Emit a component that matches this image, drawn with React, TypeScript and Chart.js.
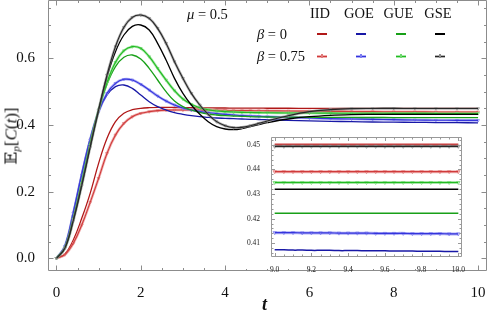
import React, { useEffect, useRef } from 'react';
import { Chart, registerables } from 'chart.js';
Chart.register(...registerables);

const FONT = "'Liberation Serif', 'Times New Roman', serif";

// ---------- main plot data ----------
const T = [0, 0.2, 0.4, 0.6, 0.8, 1.0, 1.2, 1.4, 1.6, 1.8, 2.0, 2.2, 2.4, 2.6, 2.8, 3.0, 3.2, 3.4, 3.6, 3.8, 4.0, 4.2, 4.4, 4.6, 4.8, 5.0, 5.5, 6.0, 6.5, 7.0, 7.5, 8.0, 8.5, 9.0, 9.5, 10.0];
const IID_B0 = [0, 0.013, 0.055, 0.12, 0.195, 0.285, 0.36, 0.41, 0.435, 0.446, 0.45, 0.452, 0.453, 0.453, 0.4525, 0.452, 0.4518, 0.4515, 0.4512, 0.451, 0.451, 0.4508, 0.4506, 0.4505, 0.4504, 0.4503, 0.4502, 0.4501, 0.4501, 0.45, 0.45, 0.45, 0.45, 0.45, 0.45, 0.45];
const IID_B75 = [0, 0.011, 0.045, 0.1, 0.168, 0.24, 0.315, 0.37, 0.405, 0.425, 0.435, 0.44, 0.443, 0.4445, 0.445, 0.445, 0.4448, 0.4445, 0.4442, 0.444, 0.4438, 0.4435, 0.4432, 0.443, 0.4427, 0.4425, 0.442, 0.4415, 0.441, 0.4405, 0.44, 0.4397, 0.4394, 0.4391, 0.439, 0.439];
const GOE_B0 = [0, 0.038, 0.14, 0.255, 0.36, 0.44, 0.49, 0.515, 0.52, 0.51, 0.49, 0.47, 0.455, 0.445, 0.437, 0.432, 0.428, 0.425, 0.423, 0.421, 0.42, 0.419, 0.418, 0.417, 0.4165, 0.416, 0.414, 0.4125, 0.411, 0.41, 0.409, 0.4085, 0.408, 0.4073, 0.407, 0.4066];
const GOE_B75 = [0, 0.036, 0.135, 0.25, 0.355, 0.44, 0.495, 0.525, 0.537, 0.535, 0.522, 0.505, 0.487, 0.472, 0.46, 0.451, 0.445, 0.44, 0.437, 0.434, 0.432, 0.43, 0.428, 0.427, 0.426, 0.425, 0.423, 0.421, 0.419, 0.418, 0.417, 0.416, 0.415, 0.4143, 0.414, 0.4138];
const GUE_B0 = [0, 0.032, 0.12, 0.23, 0.345, 0.445, 0.522, 0.575, 0.603, 0.61, 0.598, 0.57, 0.535, 0.5, 0.472, 0.455, 0.445, 0.438, 0.433, 0.43, 0.428, 0.427, 0.426, 0.425, 0.4245, 0.424, 0.4235, 0.423, 0.4228, 0.4226, 0.4225, 0.4224, 0.4223, 0.4222, 0.4222, 0.4222];
const GUE_B75 = [0, 0.031, 0.117, 0.225, 0.34, 0.445, 0.528, 0.588, 0.623, 0.635, 0.63, 0.605, 0.57, 0.535, 0.503, 0.478, 0.462, 0.452, 0.446, 0.442, 0.44, 0.439, 0.438, 0.4375, 0.437, 0.4368, 0.4362, 0.4358, 0.4355, 0.4353, 0.4351, 0.435, 0.4348, 0.4347, 0.4347, 0.4347];
const GSE_B0 = [0, 0.03, 0.115, 0.22, 0.335, 0.445, 0.545, 0.62, 0.67, 0.696, 0.7, 0.685, 0.645, 0.595, 0.54, 0.495, 0.46, 0.432, 0.41, 0.395, 0.388, 0.386, 0.389, 0.395, 0.401, 0.407, 0.418, 0.425, 0.429, 0.431, 0.4317, 0.432, 0.432, 0.432, 0.432, 0.432];
const GSE_B75 = [0, 0.03, 0.113, 0.218, 0.333, 0.445, 0.55, 0.635, 0.693, 0.723, 0.73, 0.72, 0.69, 0.645, 0.59, 0.54, 0.495, 0.46, 0.432, 0.41, 0.398, 0.392, 0.393, 0.398, 0.405, 0.412, 0.428, 0.44, 0.446, 0.449, 0.4497, 0.4498, 0.4496, 0.4494, 0.4494, 0.4494];

const X_TICKS = [0, 2, 4, 6, 8, 10];
const Y_TICKS = [0.0, 0.2, 0.4, 0.6];

// ---------- inset data ----------
const INSET_T = [9.0, 9.05, 9.1, 9.15, 9.2, 9.25, 9.3, 9.35, 9.4, 9.45, 9.5, 9.55, 9.6, 9.65, 9.7, 9.75, 9.8, 9.85, 9.9, 9.95, 10.0];
const IN_IID_B0 = [0.4501, 0.4501, 0.4501, 0.4501, 0.4501, 0.4501, 0.4501, 0.4501, 0.4501, 0.4501, 0.4501, 0.4501, 0.4501, 0.4501, 0.4501, 0.4501, 0.4501, 0.4501, 0.4501, 0.4501, 0.4501];
const IN_IID_B75 = [0.4391, 0.4391, 0.4391, 0.4391, 0.4391, 0.4391, 0.4391, 0.4391, 0.4391, 0.4391, 0.4391, 0.4391, 0.4391, 0.4391, 0.4391, 0.4391, 0.4391, 0.4391, 0.4391, 0.4391, 0.4391];
const IN_GOE_B0 = [0.4073, 0.4073, 0.4072, 0.4072, 0.4071, 0.4071, 0.4071, 0.407, 0.407, 0.407, 0.4069, 0.4069, 0.4069, 0.4068, 0.4068, 0.4068, 0.4067, 0.4067, 0.4067, 0.4066, 0.4066];
const IN_GOE_B75 = [0.4143, 0.4143, 0.4143, 0.4142, 0.4142, 0.4142, 0.4142, 0.4141, 0.4141, 0.4141, 0.4141, 0.414, 0.414, 0.414, 0.414, 0.4139, 0.4139, 0.4139, 0.4139, 0.4138, 0.4138];
const IN_GUE_B0 = [0.4222, 0.4222, 0.4222, 0.4222, 0.4222, 0.4222, 0.4222, 0.4222, 0.4222, 0.4222, 0.4222, 0.4222, 0.4222, 0.4222, 0.4222, 0.4222, 0.4222, 0.4222, 0.4222, 0.4222, 0.4222];
const IN_GUE_B75 = [0.4347, 0.4347, 0.4347, 0.4347, 0.4347, 0.4347, 0.4347, 0.4347, 0.4347, 0.4347, 0.4347, 0.4347, 0.4347, 0.4347, 0.4347, 0.4347, 0.4347, 0.4347, 0.4347, 0.4347, 0.4347];
const IN_GSE_B0 = [0.432, 0.432, 0.432, 0.432, 0.432, 0.432, 0.432, 0.432, 0.432, 0.432, 0.432, 0.432, 0.432, 0.432, 0.432, 0.432, 0.432, 0.432, 0.432, 0.432, 0.432];
const IN_GSE_B75 = [0.4494, 0.4494, 0.4494, 0.4494, 0.4494, 0.4494, 0.4494, 0.4494, 0.4494, 0.4494, 0.4494, 0.4494, 0.4494, 0.4494, 0.4494, 0.4494, 0.4494, 0.4494, 0.4494, 0.4494, 0.4494];

const IN_X_TICKS = [9.0, 9.2, 9.4, 9.6, 9.8, 10.0];
const IN_Y_TICKS = [0.41, 0.42, 0.43, 0.44, 0.45];

// ---------- styles ----------
const C = {
  iid: { dark: '#b01818', mid: '#d03a3a', halo: 'rgba(228,120,120,0.6)', mark: '#e07a7a' },
  goe: { dark: '#1818a6', mid: '#3434dc', halo: 'rgba(120,120,240,0.6)', mark: '#7d7df0' },
  gue: { dark: '#18a018', mid: '#22bb22', halo: 'rgba(110,215,110,0.6)', mark: '#70d870' },
  gse: { dark: '#000000', mid: '#262626', halo: 'rgba(130,130,130,0.6)', mark: '#8a8a8a' },
};

const framePlugin = {
  id: 'frameTicks',
  beforeDraw(chart: any, _args: any, o: any) {
    if (!o.bg) return;
    const { ctx, chartArea: a } = chart;
    ctx.save();
    ctx.fillStyle = o.bg;
    ctx.fillRect(a.left - 26, a.top - 4, a.right - a.left + 32, a.bottom - a.top + 16);
    ctx.restore();
  },
  afterDraw(chart: any, _args: any, o: any) {
    const { ctx, chartArea: a, scales } = chart;
    const xs = scales.x, ys = scales.y;
    ctx.save();
    ctx.strokeStyle = o.color;
    ctx.lineWidth = 1;
    ctx.beginPath();
    const L = Math.round(a.left) + 0.5, R = Math.round(a.right) - 0.5;
    const Tp = Math.round(a.top) + 0.5, B = Math.round(a.bottom) - 0.5;
    ctx.rect(L, Tp, R - L, B - Tp);
    const xt = (v: number, len: number) => {
      const p = Math.round(xs.getPixelForValue(v)) + 0.5;
      ctx.moveTo(p, B); ctx.lineTo(p, B - len);
      ctx.moveTo(p, Tp); ctx.lineTo(p, Tp + len);
    };
    const yt = (v: number, len: number) => {
      const p = Math.round(ys.getPixelForValue(v)) + 0.5;
      ctx.moveTo(L, p); ctx.lineTo(L + len, p);
      ctx.moveTo(R, p); ctx.lineTo(R - len, p);
    };
    const sub = (ticks: number[], n: number, f: (v: number, l: number) => void, min: number, max: number) => {
      const step = ticks[1] - ticks[0];
      for (let i = -1; i < ticks.length; i++) {
        const base = ticks[0] + i * step;
        for (let k = 0; k < n; k++) {
          const v = base + (k === 0 ? 0 : (k * step) / n);
          if (v < min || v > max) continue;
          f(v, k === 0 ? o.major : o.minor);
        }
      }
    };
    sub(o.xTicks, o.xSub, xt, xs.min, xs.max);
    sub(o.yTicks, o.ySub, yt, ys.min, ys.max);
    ctx.stroke();
    ctx.restore();
  },
};

function pts(xs: number[], ys: number[]) {
  return xs.map((x, i) => ({ x, y: ys[i] }));
}

function solid(xs: number[], ys: number[], color: string, w = 1.3) {
  return { data: pts(xs, ys), borderColor: color, borderWidth: w, pointRadius: 0, tension: 0.4, fill: false };
}

function marked(xs: number[], ys: number[], c: any, r: number, hw: number) {
  return [
    { data: pts(xs, ys), borderColor: c.mid, borderWidth: 1.1, pointRadius: 0, tension: 0.4, fill: false },
    {
      data: pts(xs, ys), borderColor: c.halo, borderWidth: hw, tension: 0.4, fill: false,
      pointStyle: 'triangle', rotation: 180, pointRadius: r, pointBorderWidth: 0.8,
      pointBackgroundColor: 'rgba(255,255,255,0.6)', pointBorderColor: c.mark,
    },
  ];
}

function fixTicks(vals: number[]) {
  return (s: any) => { s.ticks = vals.map((v) => ({ value: v })); };
}
function fitSize(key: 'width' | 'height', n: number) {
  return (s: any) => {
    s[key] = n;
    s.paddingTop = 0; s.paddingBottom = 0; s.paddingLeft = 0; s.paddingRight = 0;
  };
}

export default function App() {
  const mainRef = useRef<HTMLCanvasElement>(null);
  const insetRef = useRef<HTMLCanvasElement>(null);

  useEffect(() => {
    document.body.style.margin = '0';
    const main = new Chart(mainRef.current!, {
      type: 'line',
      data: {
        datasets: [
          ...marked(T, GSE_B75, C.gse, 1.6, 2.6),
          solid(T, GSE_B0, C.gse.dark),
          ...marked(T, GUE_B75, C.gue, 1.6, 2.6),
          solid(T, GUE_B0, C.gue.dark),
          ...marked(T, GOE_B75, C.goe, 1.6, 2.6),
          solid(T, GOE_B0, C.goe.dark),
          ...marked(T, IID_B75, C.iid, 1.6, 2.6),
          solid(T, IID_B0, C.iid.dark),
        ] as any,
      },
      options: {
        animation: false,
        responsive: false,
        devicePixelRatio: 1,
        layout: { autoPadding: false, padding: { top: 0, right: 1.5, left: 0, bottom: 0 } },
        plugins: {
          legend: { display: false },
          tooltip: { enabled: false },
          frameTicks: { color: '#8c8c8c', major: 5, minor: 2.5, xTicks: X_TICKS, yTicks: Y_TICKS, xSub: 4, ySub: 4 },
        } as any,
        scales: {
          x: {
            type: 'linear', min: -0.2, max: 10.2,
            afterBuildTicks: fixTicks(X_TICKS),
            afterFit: fitSize('height', 48),
            grid: { display: false }, border: { display: false },
            ticks: { padding: 5, color: '#111', font: { family: FONT, size: 15 }, maxRotation: 0, autoSkip: false, callback: (v: any) => String(v) },
          },
          y: {
            type: 'linear', min: -0.038, max: 0.775,
            afterBuildTicks: fixTicks(Y_TICKS),
            afterFit: fitSize('width', 48),
            grid: { display: false }, border: { display: false },
            ticks: { padding: 5, color: '#111', font: { family: FONT, size: 15 }, autoSkip: false, callback: (v: any) => Number(v).toFixed(1) },
          },
        },
      },
      plugins: [framePlugin],
    });

    const inset = new Chart(insetRef.current!, {
      type: 'line',
      data: {
        datasets: [
          ...marked(INSET_T, IN_GSE_B75, C.gse, 2, 3),
          solid(INSET_T, IN_IID_B0, C.iid.mid, 2.2),
          ...marked(INSET_T, IN_IID_B75, C.iid, 2, 3),
          ...marked(INSET_T, IN_GUE_B75, C.gue, 2, 3),
          solid(INSET_T, IN_GSE_B0, C.gse.dark, 1.5),
          solid(INSET_T, IN_GUE_B0, C.gue.dark, 1.5),
          ...marked(INSET_T, IN_GOE_B75, C.goe, 2, 3),
          solid(INSET_T, IN_GOE_B0, C.goe.dark, 1.5),
        ] as any,
      },
      options: {
        animation: false,
        responsive: false,
        devicePixelRatio: 1,
        layout: { autoPadding: false, padding: { top: 4.5, right: 8, left: 0, bottom: 0 } },
        plugins: {
          legend: { display: false },
          tooltip: { enabled: false },
          frameTicks: { bg: '#ffffff', color: '#999999', major: 3.5, minor: 2, xTicks: IN_X_TICKS, yTicks: IN_Y_TICKS, xSub: 4, ySub: 5 },
        } as any,
        scales: {
          x: {
            type: 'linear', min: 8.98, max: 10.02,
            afterBuildTicks: fixTicks(IN_X_TICKS),
            afterFit: fitSize('height', 20),
            grid: { display: false }, border: { display: false },
            ticks: { padding: 1, color: '#222', font: { family: FONT, size: 7.5 }, maxRotation: 0, autoSkip: false, callback: (v: any) => Number(v).toFixed(1) },
          },
          y: {
            type: 'linear', min: 0.4044, max: 0.4534,
            afterBuildTicks: fixTicks(IN_Y_TICKS),
            afterFit: fitSize('width', 26),
            grid: { display: false }, border: { display: false },
            ticks: { padding: 3, color: '#222', font: { family: FONT, size: 7.5 }, autoSkip: false, callback: (v: any) => Number(v).toFixed(2) },
          },
        },
      },
      plugins: [framePlugin],
    });

    return () => { main.destroy(); inset.destroy(); };
  }, []);

  const txt = (s: React.CSSProperties): React.CSSProperties => ({
    position: 'absolute', fontFamily: FONT, color: '#111', whiteSpace: 'nowrap', lineHeight: 1, ...s,
  });

  const sample = (x: number, y: number, c: any, withMark: boolean) => (
    <div style={{ position: 'absolute', left: x, top: y - (withMark ? 1.5 : 1), width: 10, height: withMark ? 3 : 2, background: withMark ? c.halo : c.dark }}>
      {withMark && <div style={{ position: 'absolute', left: 0, top: 1, width: 10, height: 1, background: c.mid }} />}
      {withMark && <div style={{ position: 'absolute', left: 4, top: -1, width: 2, height: 4, background: c.mark }} />}
    </div>
  );

  const cols: [string, number, any][] = [['IID', 320, C.iid], ['GOE', 359, C.goe], ['GUE', 398.5, C.gue], ['GSE', 438, C.gse]];
  const sx = [316.5, 356, 395.7, 435];

  return (
    <div style={{ position: 'absolute', left: 0, top: 0, width: 488, height: 319, background: '#fff' }}>
      <canvas ref={mainRef} width={488} height={319} style={{ position: 'absolute', left: 0, top: 0 }} />
      <canvas ref={insetRef} width={225} height={145} style={{ position: 'absolute', left: 245, top: 132 }} />
      <div style={txt({ left: 187, top: 7, fontSize: 14.5 })}><i>μ</i> = 0.5</div>
      {cols.map(([n, cx]) => (
        <div key={n} style={txt({ left: cx - 20, width: 40, textAlign: 'center', top: 6, fontSize: 14.5 })}>{n}</div>
      ))}
      <div style={txt({ left: 257, top: 27, fontSize: 14.5 })}><i>β</i> = 0</div>
      <div style={txt({ left: 257, top: 49, fontSize: 14.5 })}><i>β</i> = 0.75</div>
      {cols.map(([n, , c], i) => <React.Fragment key={n}>{sample(sx[i], 33.7, c, false)}{sample(sx[i], 56.7, c, true)}</React.Fragment>)}
      <div style={txt({ left: 262, top: 295, fontSize: 18, fontStyle: 'italic', fontWeight: 'bold' })}>t</div>
      <div style={txt({ left: 12, top: 136, fontSize: 17, transform: 'translate(-50%, -50%) rotate(-90deg)' })}>
        <span style={{ fontFamily: "'DejaVu Serif', 'DejaVu Sans', serif" }}>𝔼</span>
        <sub style={{ fontSize: 11, fontStyle: 'italic', verticalAlign: '-3px' }}>p</sub>
        [<i>C</i>(<i>t</i>)]
      </div>
    </div>
  );
}
